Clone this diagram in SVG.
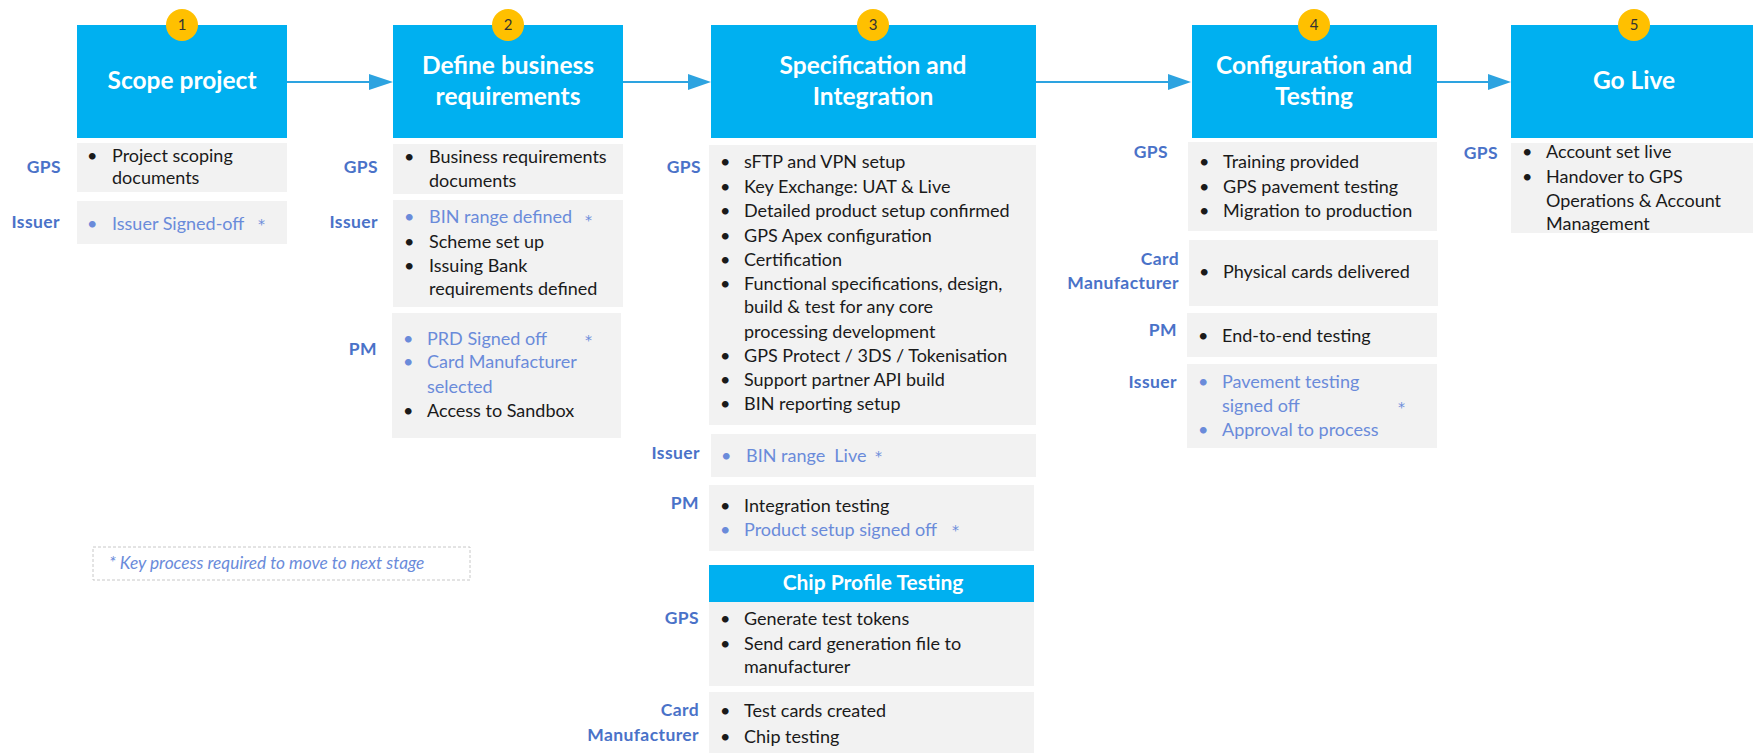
<svg xmlns="http://www.w3.org/2000/svg" width="1753" height="753" viewBox="0 0 1753 753">
<defs>
<style>
.hdr{fill:#00B0F0}
.row{fill:#F2F2F2}
.ttl{font-family:Lato,"Liberation Sans",sans-serif;font-weight:bold;font-size:24.5px;fill:#FFFFFF;text-anchor:middle}
.sub{font-family:Lato,"Liberation Sans",sans-serif;font-weight:bold;font-size:21px;fill:#FFFFFF;text-anchor:middle}
.badge{fill:#FFC000}
.bn{font-family:Lato,"Liberation Sans",sans-serif;font-size:15px;fill:#333333;text-anchor:middle}
.t{font-family:Lato,"Liberation Sans",sans-serif;font-size:18px;fill:#1A1A1A}
.k{font-family:Lato,"Liberation Sans",sans-serif;font-size:18px;fill:#6A8BDA}
.st{font-family:"DejaVu Sans",sans-serif;font-size:14px;fill:#6A8BDA}
.lb{font-family:Lato,"Liberation Sans",sans-serif;font-weight:bold;font-size:17.5px;letter-spacing:0.4px;fill:#4A72C8;text-anchor:end}
.leg{font-family:Lato,"Liberation Sans",sans-serif;font-style:italic;font-size:17.3px;fill:#6A8BDA}
.conn{stroke:#2DA3E0;stroke-width:2;fill:none}
.ah{fill:#2DA3E0}
</style>
</defs>
<rect width="1753" height="753" fill="#FFFFFF"/>

<g id="connectors">
<line class="conn" x1="287" y1="82" x2="370" y2="82"/><path class="ah" d="M369,74 L393,82 L369,90 Z"/>
<line class="conn" x1="623" y1="82" x2="689" y2="82"/><path class="ah" d="M688,74 L711,82 L688,90 Z"/>
<line class="conn" x1="1036" y1="82" x2="1169" y2="82"/><path class="ah" d="M1168,74 L1191,82 L1168,90 Z"/>
<line class="conn" x1="1437" y1="82" x2="1489" y2="82"/><path class="ah" d="M1488,74 L1511,82 L1488,90 Z"/>
</g>

<g id="stage1">
<rect class="hdr" x="77" y="25" width="210" height="113"/>
<circle class="badge" cx="182" cy="25" r="16"/><text class="bn" x="182" y="30">1</text>
<text class="ttl" x="182" y="89">Scope project</text>
<rect class="row" x="77" y="143" width="210" height="49"/>
<text class="lb" x="61" y="173">GPS</text>
<text class="t" x="87" y="162">•</text><text class="t" x="112" y="162">Project scoping</text>
<text class="t" x="112" y="184">documents</text>
<rect class="row" x="77" y="201" width="210" height="43"/>
<text class="lb" x="60" y="228">Issuer</text>
<text class="k" x="87" y="230">•</text><text class="k" x="112" y="230">Issuer Signed-off</text><text class="st" x="258" y="229">*</text>
</g>

<g id="stage2">
<rect class="hdr" x="393" y="25" width="230" height="113"/>
<circle class="badge" cx="508" cy="25" r="16"/><text class="bn" x="508" y="30">2</text>
<text class="ttl" x="508" y="74">Define business</text>
<text class="ttl" x="508" y="105">requirements</text>
<rect class="row" x="393" y="144" width="230" height="50"/>
<text class="lb" x="378" y="173">GPS</text>
<text class="t" x="404" y="163">•</text><text class="t" x="429" y="163">Business requirements</text>
<text class="t" x="429" y="187">documents</text>
<rect class="row" x="393" y="200" width="230" height="107"/>
<text class="lb" x="378" y="228">Issuer</text>
<text class="k" x="404" y="223">•</text><text class="k" x="429" y="223">BIN range defined</text><text class="st" x="585" y="225">*</text>
<text class="t" x="404" y="248">•</text><text class="t" x="429" y="248">Scheme set up</text>
<text class="t" x="404" y="272">•</text><text class="t" x="429" y="272">Issuing Bank</text>
<text class="t" x="429" y="295">requirements defined</text>
<rect class="row" x="392" y="313" width="229" height="125"/>
<text class="lb" x="377" y="355">PM</text>
<text class="k" x="403" y="345">•</text><text class="k" x="427" y="345">PRD Signed off</text><text class="st" x="585" y="345">*</text>
<text class="k" x="403" y="368">•</text><text class="k" x="427" y="368">Card Manufacturer</text>
<text class="k" x="427" y="393">selected</text>
<text class="t" x="403" y="417">•</text><text class="t" x="427" y="417">Access to Sandbox</text>
</g>

<g id="stage3">
<rect class="hdr" x="711" y="25" width="325" height="113"/>
<circle class="badge" cx="873" cy="25" r="16"/><text class="bn" x="873" y="30">3</text>
<text class="ttl" x="873" y="74">Specification and</text>
<text class="ttl" x="873" y="105">Integration</text>
<rect class="row" x="709" y="145" width="327" height="280"/>
<text class="lb" x="701" y="173">GPS</text>
<g class="t">
<text x="720" y="168">•</text><text x="744" y="168">sFTP and VPN setup</text>
<text x="720" y="193">•</text><text x="744" y="193">Key Exchange: UAT &amp; Live</text>
<text x="720" y="217">•</text><text x="744" y="217">Detailed product setup confirmed</text>
<text x="720" y="242">•</text><text x="744" y="242">GPS Apex configuration</text>
<text x="720" y="266">•</text><text x="744" y="266">Certification</text>
<text x="720" y="290">•</text><text x="744" y="290">Functional specifications, design,</text>
<text x="744" y="313">build &amp; test for any core</text>
<text x="744" y="338">processing development</text>
<text x="720" y="362">•</text><text x="744" y="362">GPS Protect / 3DS / Tokenisation</text>
<text x="720" y="386">•</text><text x="744" y="386">Support partner API build</text>
<text x="720" y="410">•</text><text x="744" y="410">BIN reporting setup</text>
</g>
<rect class="row" x="711" y="434" width="325" height="43"/>
<text class="lb" x="700" y="459">Issuer</text>
<text class="k" x="721" y="462">•</text><text class="k" x="746" y="462">BIN range&#160; Live</text><text class="st" x="875" y="461">*</text>
<rect class="row" x="709" y="485" width="325" height="66"/>
<text class="lb" x="699" y="509">PM</text>
<text class="t" x="720" y="512">•</text><text class="t" x="744" y="512">Integration testing</text>
<text class="k" x="720" y="536">•</text><text class="k" x="744" y="536">Product setup signed off</text><text class="st" x="952" y="535">*</text>
<rect class="hdr" x="709" y="565" width="325" height="37"/>
<text class="sub" x="873" y="590">Chip Profile Testing</text>
<rect class="row" x="709" y="602" width="325" height="84"/>
<text class="lb" x="699" y="624">GPS</text>
<text class="t" x="720" y="625">•</text><text class="t" x="744" y="625">Generate test tokens</text>
<text class="t" x="720" y="650">•</text><text class="t" x="744" y="650">Send card generation file to</text>
<text class="t" x="744" y="673">manufacturer</text>
<rect class="row" x="709" y="692" width="325" height="61"/>
<text class="lb" x="699" y="716">Card</text>
<text class="lb" x="699" y="741">Manufacturer</text>
<text class="t" x="720" y="717">•</text><text class="t" x="744" y="717">Test cards created</text>
<text class="t" x="720" y="743">•</text><text class="t" x="744" y="743">Chip testing</text>
</g>

<g id="stage4">
<rect class="hdr" x="1192" y="25" width="245" height="113"/>
<circle class="badge" cx="1314" cy="25" r="16"/><text class="bn" x="1314" y="30">4</text>
<text class="ttl" x="1314" y="74">Configuration and</text>
<text class="ttl" x="1314" y="105">Testing</text>
<rect class="row" x="1188" y="142" width="249" height="89"/>
<text class="lb" x="1168" y="158">GPS</text>
<text class="t" x="1199" y="168">•</text><text class="t" x="1223" y="168">Training provided</text>
<text class="t" x="1199" y="193">•</text><text class="t" x="1223" y="193">GPS pavement testing</text>
<text class="t" x="1199" y="217">•</text><text class="t" x="1223" y="217">Migration to production</text>
<rect class="row" x="1189" y="240" width="249" height="66"/>
<text class="lb" x="1179" y="265">Card</text>
<text class="lb" x="1179" y="289">Manufacturer</text>
<text class="t" x="1199" y="278">•</text><text class="t" x="1223" y="278">Physical cards delivered</text>
<rect class="row" x="1187" y="313" width="250" height="44"/>
<text class="lb" x="1177" y="336">PM</text>
<text class="t" x="1198" y="342">•</text><text class="t" x="1222" y="342">End-to-end testing</text>
<rect class="row" x="1187" y="364" width="250" height="84"/>
<text class="lb" x="1177" y="388">Issuer</text>
<text class="k" x="1198" y="388">•</text><text class="k" x="1222" y="388">Pavement testing</text>
<text class="k" x="1222" y="412">signed off</text><text class="st" x="1398" y="412">*</text>
<text class="k" x="1198" y="436">•</text><text class="k" x="1222" y="436">Approval to process</text>
</g>

<g id="stage5">
<rect class="hdr" x="1511" y="25" width="242" height="113"/>
<circle class="badge" cx="1634" cy="25" r="16"/><text class="bn" x="1634" y="30">5</text>
<text class="ttl" x="1634" y="89">Go Live</text>
<rect class="row" x="1511" y="143" width="242" height="90"/>
<text class="lb" x="1498" y="159">GPS</text>
<text class="t" x="1522" y="158">•</text><text class="t" x="1546" y="158">Account set live</text>
<text class="t" x="1522" y="183">•</text><text class="t" x="1546" y="183">Handover to GPS</text>
<text class="t" x="1546" y="207">Operations &amp; Account</text>
<text class="t" x="1546" y="230">Management</text>
</g>

<g id="legend">
<rect x="93" y="547" width="377" height="33" fill="none" stroke="#C8C8C8" stroke-width="1" stroke-dasharray="3,2"/>
<text class="leg" x="109" y="569">* Key process required to move to next stage</text>
</g>
</svg>
